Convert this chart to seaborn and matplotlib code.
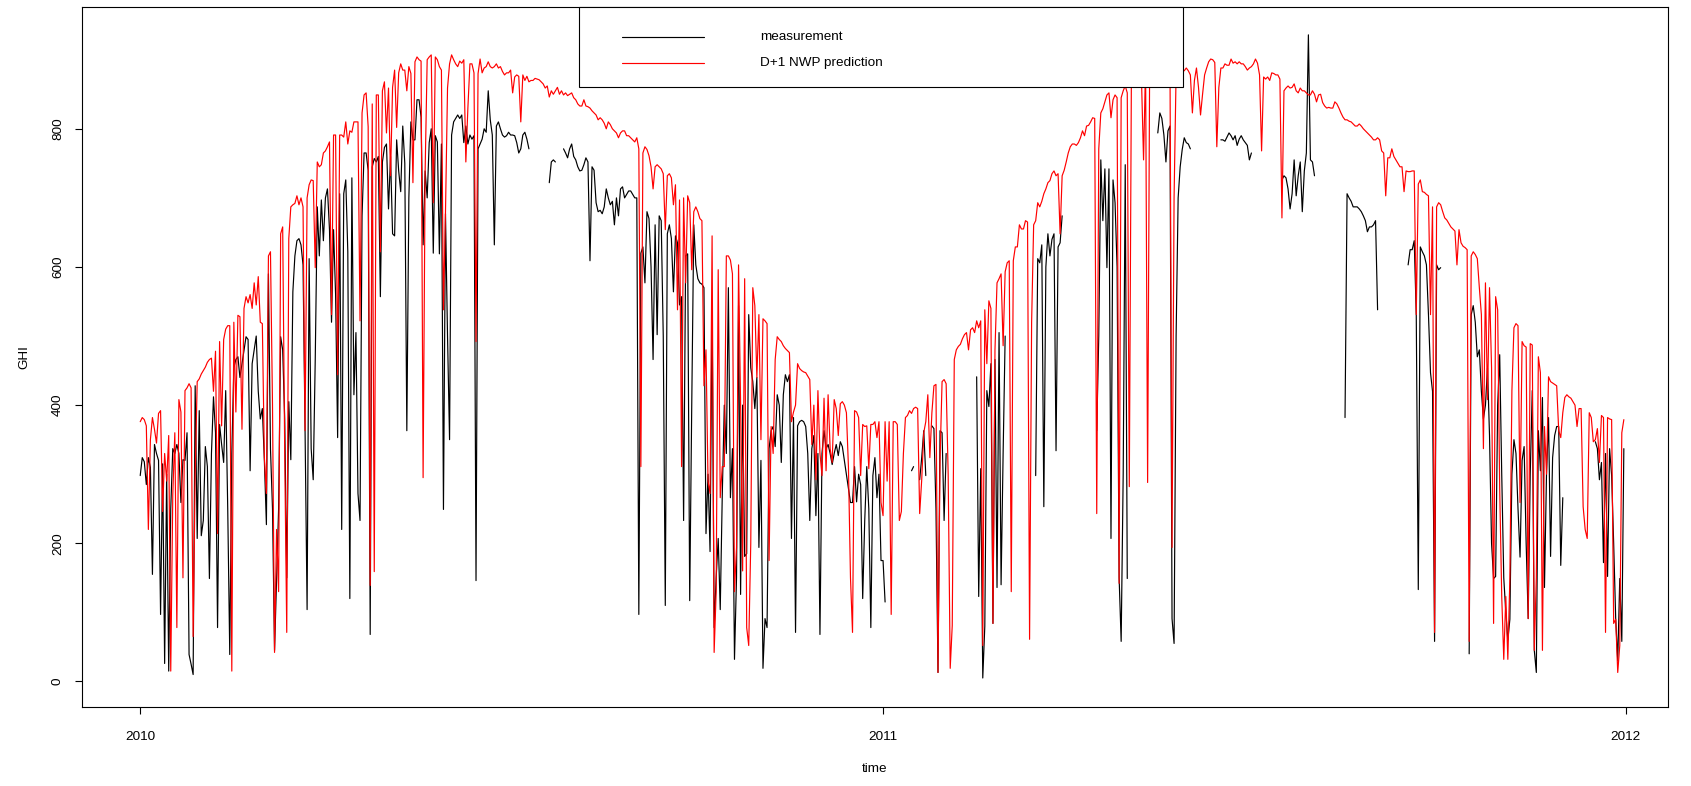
import numpy as np
import pandas as pd
import matplotlib
matplotlib.use("Agg")
import matplotlib.pyplot as plt
import matplotlib.dates as mdates
import seaborn as sns

N = None  # missing measurement

# ---- daily GHI, 2010 (D+1 NWP prediction) ----
pred_2010 = [
    376, 382, 379, 370, 220, 350, 382, 365, 345, 388,
    392, 246, 330, 290, 356, 15, 270, 360, 78, 408,
    390, 150, 421, 425, 431, 425, 65, 300, 434, 438,
    445, 450, 455, 462, 466, 468, 420, 478, 214, 492,
    370, 495, 510, 515, 515, 15, 520, 390, 530, 528,
    365, 540, 557, 548, 560, 540, 577, 545, 586, 520,
    518, 324, 272, 616, 622, 400, 42, 220, 130, 648,
    658, 330, 71, 641, 687, 690, 692, 703, 690, 700,
    687, 363, 700, 719, 726, 725, 599, 752, 745, 748,
    765, 768, 774, 781, 531, 791, 791, 444, 791, 791,
    788, 810, 778, 797, 795, 810, 810, 810, 522, 823,
    849, 852, 803, 139, 836, 159, 849, 849, 622, 855,
    868, 794, 859, 732, 860, 885, 802, 881, 894, 885,
    885, 855, 890, 880, 722, 897, 904, 900, 898, 295,
    739, 900, 904, 907, 693, 904, 900, 890, 885, 538,
    680, 859, 894, 907, 900, 894, 890, 898, 895, 900,
    752, 830, 894, 894, 881, 492, 880, 901, 881, 888,
    890, 897, 890, 888, 890, 894, 888, 890, 883, 878,
    881, 881, 885, 852, 875, 878, 876, 810, 878, 870,
    876, 868, 870, 870, 873, 872, 871, 868, 865, 859,
    862, 846, 855, 850, 855, 860, 850, 855, 849, 852,
    848, 850, 852, 845, 842, 836, 833, 833, 842, 833,
    832, 830, 826, 823, 820, 813, 816, 813, 808, 800,
    810, 806, 800, 797, 794, 787, 794, 797, 797, 790,
    790, 787, 784, 781, 787, 771, 311, 765, 774, 770,
    761, 745, 713, 745, 748, 745, 742, 735, 654, 732,
    735, 729, 690, 719, 538, 697, 311, 700, 577, 703,
    693, 596, 680, 687, 680, 670, 667, 428, 480, 290,
    272, 645, 42, 130, 596, 266, 311, 311, 616, 616,
    610, 590, 130, 194, 603, 402, 160, 583, 78, 52,
    200, 570, 544, 440, 531, 350, 525, 522, 518, 175,
    369, 330, 466, 499, 495, 492, 486, 482, 479, 476,
    376, 390, 400, 460, 453, 450, 448, 447, 442, 437,
    343, 400, 292, 421, 330, 298, 410, 305, 415, 337,
    317, 408, 395, 356, 402, 405, 400, 389, 310, 150,
    71, 392, 390, 382, 298, 372, 369, 370, 308, 372,
    372, 376, 353, 376, 259,
]

# ---- daily GHI, 2010 (measurement) ----
meas_2010 = [
    298, 324, 318, 285, 324, 310, 155, 343, 330, 320,
    97, 315, 26, 300, 15, 250, 337, 330, 343, 330,
    259, 321, 320, 360, 39, 25, 10, 428, 207, 392,
    211, 233, 340, 311, 149, 330, 412, 360, 78, 372,
    343, 317, 421, 250, 39, 330, 454, 466, 470, 440,
    460, 480, 499, 495, 305, 460, 480, 500, 420, 380,
    395, 320, 227, 590, 337, 250, 45, 150, 250, 499,
    480, 380, 150, 405, 321, 564, 616, 638, 641, 632,
    603, 363, 104, 612, 337, 292, 466, 687, 616, 697,
    638, 700, 713, 654, 520, 654, 560, 353, 706, 220,
    706, 726, 622, 120, 729, 415, 505, 272, 233, 674,
    765, 765, 740, 68, 745, 757, 752, 760, 557, 752,
    773, 778, 684, 760, 648, 645, 784, 739, 709, 804,
    750, 363, 700, 810, 784, 784, 842, 842, 817, 632,
    739, 700, 780, 800, 620, 790, 781, 619, 778, 249,
    677, 500, 350, 791, 810, 815, 820, 815, 820, 780,
    804, 778, 791, 785, 790, 146, 771, 778, 785, 800,
    795, 855, 813, 791, 632, 804, 810, 800, 791, 788,
    790, 795, 791, 791, 790, 780, 765, 771, 791, 795,
    785, 771, N, N, N, N, N, N, N, N,
    N, 722, 752, 755, 752, N, N, N, 771, 765,
    758, 771, 778, 760, 755, 745, 739, 740, 748, 758,
    752, 609, 745, 740, 693, 680, 682, 677, 687, 713,
    700, 690, 695, 661, 700, 674, 713, 716, 700, 705,
    710, 710, 705, 700, 700, 97, 620, 629, 577, 680,
    670, 600, 466, 661, 502, 674, 667, 500, 110, 648,
    661, 641, 564, 645, 635, 545, 557, 233, 616, 619,
    117, 400, 661, 603, 583, 577, 575, 570, 214, 300,
    188, 544, 78, 150, 207, 104, 270, 400, 330, 570,
    266, 337, 32, 150, 544, 126, 400, 181, 185, 531,
    454, 434, 395, 440, 194, 320, 19, 91, 78, 337,
    363, 369, 340, 415, 400, 317, 415, 444, 434, 444,
    207, 382, 71, 370, 376, 378, 376, 369, 330, 233,
    337, 356, 240, 330, 68, 330, 363, 337, 343, 330,
    314, 330, 343, 327, 347, 340, 320, 300, 280, 259,
    259, 311, 260, 300, 285, 120, 233, 311, 250, 78,
    298, 324, 266, 300, 175,
]

# ---- daily GHI, 2011 (D+1 NWP prediction) ----
pred_2011 = [
    240, 376, 290, 376, 97, 376, 376, 372, 233, 246,
    330, 382, 385, 392, 388, 395, 397, 395, 243, 292,
    360, 376, 415, 324, 389, 428, 430, 13, 320, 434,
    437, 431, 300, 19, 81, 466, 480, 485, 488, 496,
    502, 505, 480, 509, 512, 505, 522, 512, 522, 52,
    538, 460, 551, 540, 84, 480, 577, 583, 590, 486,
    593, 606, 609, 130, 609, 629, 629, 661, 655, 655,
    667, 665, 61, 520, 661, 667, 693, 687, 695, 706,
    713, 722, 725, 735, 739, 732, 735, 648, 732, 740,
    752, 765, 774, 778, 778, 776, 780, 787, 797, 790,
    804, 805, 810, 816, 815, 243, 771, 823, 829, 839,
    849, 852, 816, 842, 849, 845, 142, 845, 855, 862,
    852, 282, 860, 862, 866, 872, 875, 870, 755, 892,
    288, 893, 894, 890, 885, 895, 904, 900, 890, 888,
    886, 890, 194, 700, 881, 883, 883, 885, 884, 888,
    884, 878, 823, 870, 888, 860, 820, 850, 878, 888,
    897, 901, 900, 896, 774, 860, 888, 888, 894, 892,
    892, 901, 895, 897, 894, 897, 894, 894, 890, 885,
    888, 890, 894, 901, 895, 878, 768, 875, 872, 875,
    870, 881, 880, 878, 878, 872, 671, 855, 859, 862,
    859, 860, 865, 855, 852, 859, 855, 855, 852, 849,
    849, 855, 850, 839, 849, 850, 838, 833, 830, 831,
    830, 830, 839, 836, 830, 823, 817, 813, 813, 811,
    810, 807, 804, 804, 807, 804, 800, 797, 794, 791,
    788, 784, 784, 787, 784, 768, 765, 703, 758, 758,
    771, 760, 755, 750, 745, 745, 709, 739, 738, 738,
    739, 739, 531, 720, 726, 709, 708, 705, 703, 531,
    687, 71, 687, 693, 690, 680, 671, 668, 663, 658,
    655, 652, 603, 654, 635, 630, 628, 625, 58, 616,
    622, 618, 612, 570, 531, 337, 577, 408, 570, 454,
    84, 557, 538, 279, 123, 32, 123, 32, 150, 421,
    512, 518, 515, 259, 492, 486, 484, 91, 489, 487,
    45, 150, 470, 447, 45, 369, 300, 441, 434, 432,
    430, 428, 363, 353, 389, 411, 415, 412, 410, 405,
    400, 369, 395, 395, 253, 220, 207, 389, 382, 347,
    350, 366, 317, 385, 382, 71, 382, 380, 379, 84,
    90, 13, 52, 360, 379,
]

# ---- daily GHI, 2011 (measurement) ----
meas_2011 = [
    175, 115, N, N, N, N, N, N, N, N,
    N, N, N, N, 305, 311, N, N, 292, 324,
    363, 298, N, N, 370, 366, 250, 13, 363, 360,
    233, 330, N, N, N, N, N, N, N, N,
    N, N, N, N, N, N, 441, 123, 308, 5,
    80, 421, 398, 460, 84, 466, 136, 505, 140, 330,
    500, N, N, N, N, N, N, N, N, N,
    N, N, N, N, N, 298, 612, 606, 632, 253,
    600, 648, 616, 640, 648, 334, 629, 635, 674, N,
    N, N, N, N, N, N, N, N, N, N,
    N, N, N, N, N, 363, 500, 755, 667, 742,
    599, 742, 207, 726, 693, 600, 150, 58, 300, 748,
    149, N, N, N, N, N, N, N, N, N,
    N, N, N, N, N, 794, 823, 815, 791, 752,
    797, 804, 91, 55, 500, 700, 745, 770, 787, 780,
    778, 771, N, N, N, N, N, N, N, N,
    N, N, N, N, N, N, 784, 784, 782, 788,
    794, 790, 784, 790, 776, 785, 790, 784, 780, 776,
    755, 765, N, N, N, N, N, N, N, N,
    N, N, N, N, N, N, 726, 732, 729, 713,
    684, 706, 755, 703, 732, 752, 680, 739, 765, 936,
    755, 752, 732, N, N, N, N, N, N, N,
    N, N, N, N, N, N, N, 382, 706, 700,
    695, 687, 687, 687, 684, 680, 674, 667, 651, 658,
    658, 661, 667, 538, N, N, N, N, N, N,
    N, N, N, N, N, N, N, N, 603, 625,
    625, 638, 531, 133, 629, 622, 616, 603, 531, 447,
    420, 58, 603, 596, 599, N, N, N, N, N,
    N, N, N, N, N, N, N, N, 40, 531,
    544, 520, 470, 480, 420, 380, 400, 454, 356, 200,
    149, 152, 400, 473, 300, 150, 100, 60, 90, 300,
    350, 330, 250, 180, 320, 340, 200, 91, 300, 421,
    45, 13, 363, 305, 411, 136, 300, 382, 181, 324,
    356, 369, 369, 168, 266, N, N, N, N, N,
    N, N, N, N, N, N, N, N, N, N,
    347, 337, 292, 317, 172, 330, 152, 337, 298, 200,
    91, 30, 149, 58, 337,
]

series_labels = ["measurement", "D+1 NWP prediction"]
x_tick_dates = ["2010-01-01", "2011-01-01", "2012-01-01"]
x_tick_labels = ["2010", "2011", "2012"]
y_ticks = [0, 200, 400, 600, 800]

# ---------------------------------------------------------------------------
dates = pd.date_range("2010-01-01", "2011-12-31", freq="D")
pred = np.array(pred_2010 + pred_2011, dtype=float)
meas = np.array([np.nan if v is None else v for v in meas_2010 + meas_2011], dtype=float)
n = min(len(dates), len(pred), len(meas))
df = pd.DataFrame({"time": dates[:n], "pred": pred[:n], "meas": meas[:n]})
df["seg"] = df["meas"].isna().cumsum()
mdf = df.dropna(subset=["meas"])

sns.set_style("white")
plt.rcParams["font.family"] = ["Liberation Sans", "DejaVu Sans"]

fig = plt.figure(figsize=(16.91, 7.86), dpi=100)
ax = fig.add_axes([0.0485, 0.1005, 0.9379, 0.8912])

sns.lineplot(data=mdf, x="time", y="meas", units="seg", estimator=None,
             color="black", lw=0.85, ax=ax, sort=False, legend=False)
sns.lineplot(data=df, x="time", y="pred", estimator=None,
             color="red", lw=0.85, ax=ax, sort=False, legend=False)

d0 = mdates.date2num(pd.Timestamp("2010-01-01"))
ax.set_xlim(d0 - 28.6, d0 + 750.7)
ax.set_ylim(-37, 977)

ax.set_xticks([mdates.date2num(pd.Timestamp(d)) for d in x_tick_dates])
ax.set_xticklabels(x_tick_labels)
ax.set_yticks(y_ticks)
ax.set_yticklabels([str(v) for v in y_ticks], rotation=90, va="center")

for s in ax.spines.values():
    s.set_visible(True)
    s.set_color("black")
    s.set_linewidth(0.8)
ax.tick_params(axis="both", direction="out", length=5, width=0.8,
               color="black", labelsize=9.7, labelcolor="black",
               bottom=True, left=True)
ax.tick_params(axis="x", pad=12)
ax.tick_params(axis="y", pad=8)

ax.set_xlabel("time", fontsize=9.7, color="black")
ax.set_ylabel("GHI", fontsize=9.7, color="black")
ax.xaxis.set_label_coords(0.5, -62 / 700.5)
ax.yaxis.set_label_coords(-58 / 1586, 0.5)
ax.xaxis.label.set_va("center")
ax.yaxis.label.set_va("center")

# legend box (R style, drawn in axes fraction)
lx0, lx1, ly0 = 0.3134, 0.6942, 0.885
ax.add_patch(plt.Rectangle((lx0, ly0), lx1 - lx0, 1.0 - ly0, transform=ax.transAxes,
                           fill=True, facecolor="white", edgecolor="black", lw=0.8,
                           zorder=5, clip_on=False))
for yy, col, lab in [(0.957, "black", series_labels[0]), (0.920, "red", series_labels[1])]:
    ax.plot([0.3405, 0.392], [yy, yy], transform=ax.transAxes, color=col, lw=0.85,
            zorder=6, clip_on=False)
    ax.text(0.4275, yy, lab, transform=ax.transAxes, fontsize=9.7, va="center",
            ha="left", color="black", zorder=6)

ax.grid(False)
fig.savefig("out.png", dpi=100, facecolor="white")
